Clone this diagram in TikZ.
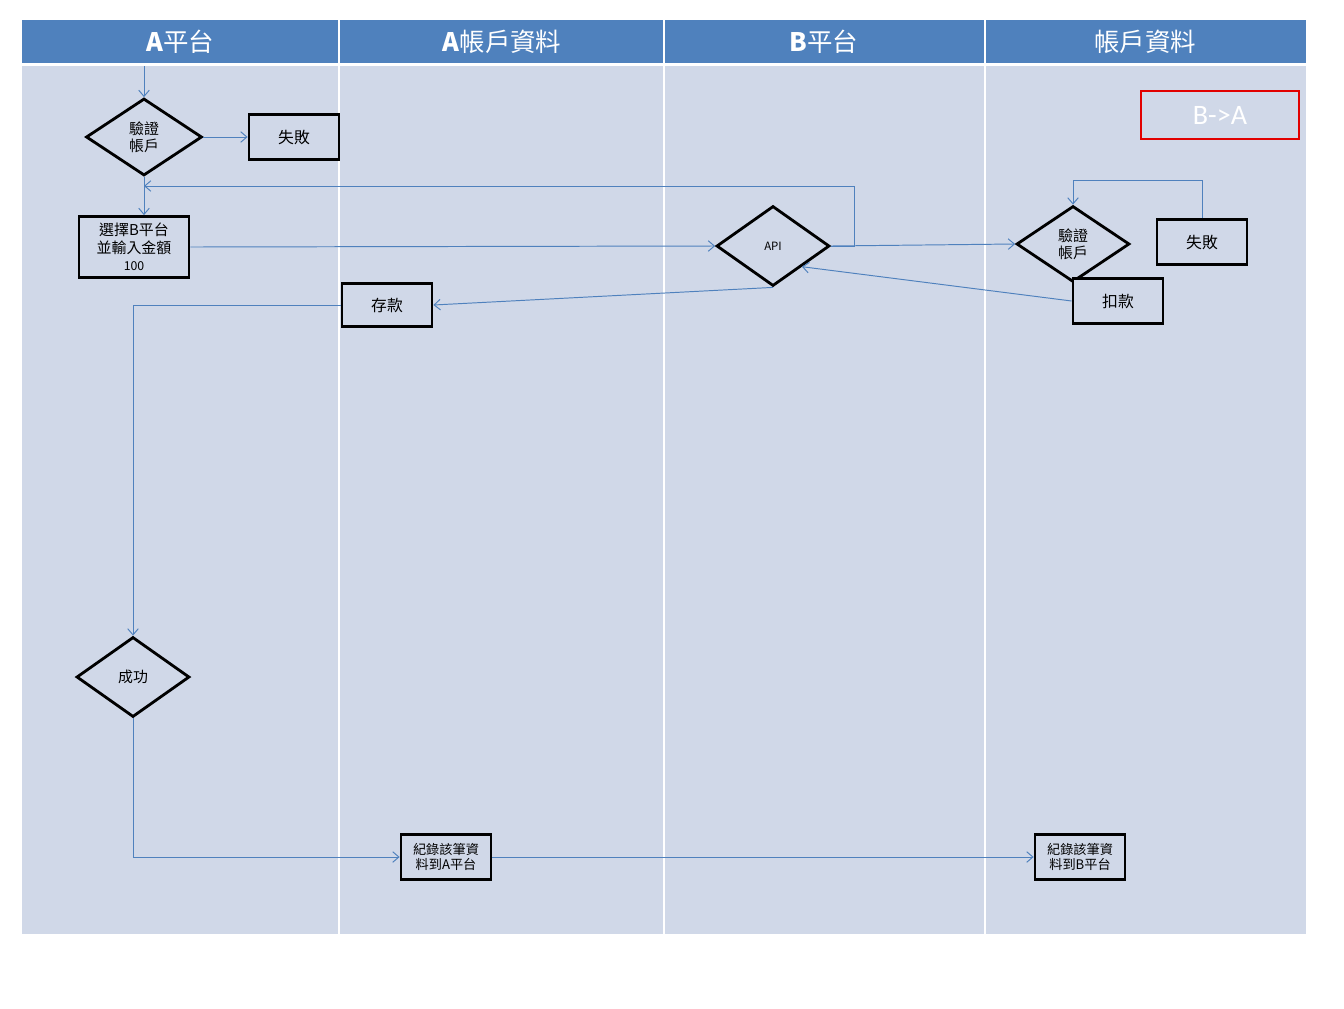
\documentclass[tikz,border=0pt]{standalone}
\usepackage{fontspec}
\setmainfont{Noto Sans CJK TC}
\newfontfamily\latinfont{Carlito}
\usetikzlibrary{arrows.meta,positioning,shapes.geometric}
\definecolor{lanehead}{RGB}{79,129,189}
\definecolor{lanebg}{RGB}{208,216,232}
\definecolor{flowblue}{RGB}{79,129,189}
\definecolor{tagred}{RGB}{226,0,0}

\begin{document}
\begin{tikzpicture}[x=0.02cm, y=-0.02cm,
      head/.style={text=white, font=\fontsize{14.5}{16}\selectfont},
      box/.style={draw, line width=1.6pt, fill=lanebg, inner sep=1pt,
                  minimum width=1.8cm, minimum height=0.9cm,
                  font=\fontsize{9}{10.5}\selectfont, align=center},
      dec/.style={draw, diamond, line width=1.6pt, fill=lanebg, inner sep=0pt,
                  aspect=1.45, minimum width=2.26cm, minimum height=1.6cm,
                  font=\fontsize{8.5}{9.5}\selectfont, align=center},
      flow/.style={-{Straight Barb[length=3.5pt,width=6pt]}, line width=0.55pt, color=flowblue}
  ]
    \useasboundingbox (0,0) rectangle (1344,1008);
    % lanes
    \fill[lanebg] (22,66) rectangle (1306,934);
    \fill[lanehead] (22,20) rectangle (1306,63);
    \foreach \lx in {339,664,985}
      \draw[white, line width=0.8pt] (\lx,20) -- (\lx,934);
    \node[head] (hA)  at (180,42)  {\textbf{A}平台};
    \node[head] (hAd) at (502,42)  {\textbf{A}帳戶資料};
    \node[head] (hB)  at (824,42)  {\textbf{B}平台};
    \node[head] (hBd) at (1145,42) {帳戶資料};

    \node[draw=tagred, line width=1.2pt, text=white, minimum width=3.16cm,
          minimum height=0.96cm, font=\latinfont\fontsize{16}{18}\selectfont] (tag) at (1220,115) {B->A};

    % A platform
    \coordinate (start) at (144,66);
    \node[dec, minimum width=2.32cm, minimum height=1.54cm] (chkA) at (144,137) {驗證\\帳戶};
    \node[box] (failA) at (294,137) {失敗};
    \node[box, minimum width=2.2cm, minimum height=1.22cm, font=\fontsize{8.5}{10}\selectfont] (sel) at (134,247)
         {選擇B平台\\並輸入金額\\{\fontsize{7}{8}\selectfont 100}};
    \coordinate (back) at (144,186);
    \node[dec] (ok) at (133,677) {成功};

    % A account data
    \node[box, minimum height=0.86cm] (dep) at (387,305) {存款};
    \node[box, font=\fontsize{7.5}{8.5}\selectfont] (recA) at (446,857) {紀錄該筆資\\料到A平台};

    % B platform
    \node[dec, font=\fontsize{6.5}{8}\selectfont] (api) at (773,246) {API};

    % B account data
    \node[dec, minimum height=1.52cm] (chkB) at (1073,244) {驗證\\帳戶};
    \node[box] (failB) at (1202,242) {失敗};
    \node[box] (debit) at (1118,301) {扣款};
    \node[box, font=\fontsize{7.5}{8.5}\selectfont] (recB) at (1080,857) {紀錄該筆資\\料到B平台};

    % connectors
    \draw[flow] (start) -- (chkA.north);
    \draw[flow] (chkA.east) -- (failA.west);
    \draw[flow] (chkA.south) -- (chkA.south |- sel.north);
    \draw[flow] (api.east) -- ++(24,0) |- (back);
    \draw[flow] (sel.east) -- (api.west);
    \draw[flow] (api.east) -- (chkB.west);
    \draw[flow] (failB.north) -- ++(0,-38) -| (chkB.north);
    \draw[flow] (debit.west) -- (api.south east);
    \draw[flow] (api.south) -- (dep.east);
    \draw[flow] (dep.west) -| (ok.north);
    \draw[flow] (ok.south) |- (recA.west);
    \draw[flow] (recA.east) -- (recB.west);
  \end{tikzpicture}
\end{document}
